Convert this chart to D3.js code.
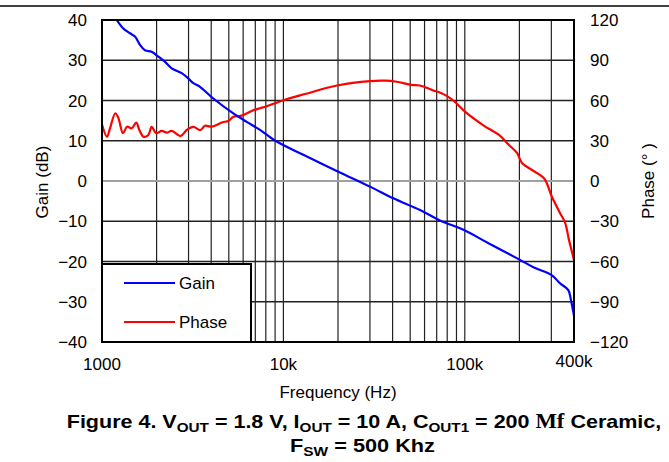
<!DOCTYPE html>
<html><head><meta charset="utf-8">
<script src="https://cdn.jsdelivr.net/npm/d3@7"></script>
<style>
html,body{margin:0;padding:0;background:#fff;}
svg text{font-family:"Liberation Sans",Arial,Helvetica,sans-serif;fill:#000;}
</style></head>
<body><svg id="c" width="669" height="462"></svg>
<script>
// ---- data ----
const gainFreq = [1205,1310,1427,1520,1620,1726,1879,2044,2225,2422,2751,2990,3187,3469,4108,5294,6277,7430,9184,12880,20080,30020,40350,56620,73010,98990,134300,201500,240700,301300,334800,372100,385000,400000];
const gainDb   = [40,37.9,36.7,35.9,33.8,32.5,32.1,30.9,29.6,28.0,26.8,25.5,24.3,23.4,20.5,16.8,14.7,12.7,9.8,6.5,2.3,-1.4,-4.3,-7.2,-9.8,-12.2,-15.4,-19.6,-21.5,-23.4,-25.4,-27.1,-29.6,-33.5];
const phaseFreq = [1000,1065,1107,1184,1233,1305,1374,1458,1546,1606,1693,1800,1879,1992,2133,2273,2423,2709,2930,3187,3491,3697,4025,4616,4969,5294,5765,6009,6825,7430,8088,10000,13150,19750,30020,36320,42130,50960,56620,67060,73940,79470,88310,100250,126000,154400,175300,194000,206700,234700,273400,302500,334800,356800,375400,389900,400000];
const phaseDeg  = [42.1,33.0,39.3,50.5,46.7,35.6,40.5,39.3,43.6,38.0,33.0,34.3,40.3,35.6,37.3,36.0,37.3,33.5,38.0,40.3,38.0,41.2,40.5,43.8,44.7,47.9,48.4,49.2,52.7,54.2,55.7,60.2,64.8,71.2,74.5,74.8,74.0,71.6,71.2,67.5,65.6,63.4,58.9,51.7,41.7,34.3,26.8,20.9,13.4,8.2,2.0,-11.9,-23.8,-30.9,-44.0,-52.9,-58.9];
const freqTicks = [1000,10000,100000,400000];
const freqTickLabels = ["1000","10k","100k","400k"];
const gridFreqs = [2000,3000,4000,5000,6000,7000,8000,9000,10000,20000,30000,40000,50000,60000,70000,80000,90000,100000,200000,300000];
const gainTicks = [-40,-30,-20,-10,0,10,20,30,40];
const phaseTicks = [-120,-90,-60,-30,0,30,60,90,120];
const seriesNames = ["Gain","Phase"];

const svg = d3.select("#c");
const L=102,R=574,T=20,B=342;
const x = d3.scaleLog().domain([1000,400000]).range([L,R]);
const yG = d3.scaleLinear().domain([-40,40]).range([B,T]);
const yP = d3.scaleLinear().domain([-120,120]).range([B,T]);
const fmt = v => (v<0?"\u2212"+Math.abs(v):String(v));

// top rule
svg.append("line").attr("x1",0).attr("x2",669).attr("y1",6).attr("y2",6).attr("stroke","#000").attr("stroke-width",1.5);

// grid
const g = svg.append("g");
g.selectAll("line.v").data(gridFreqs).enter().append("line")
  .attr("x1",d=>x(d)).attr("x2",d=>x(d)).attr("y1",T).attr("y2",B)
  .attr("stroke","#222").attr("stroke-width",1.2);
g.selectAll("line.h").data(gainTicks.filter(d=>d>-40&&d<40)).enter().append("line")
  .attr("x1",L).attr("x2",R).attr("y1",d=>yG(d)).attr("y2",d=>yG(d))
  .attr("stroke",d=>d===0?"#a0a0a0":"#222").attr("stroke-width",d=>d===0?1.8:1.3);

// clip
svg.append("clipPath").attr("id","pc").append("rect").attr("x",L).attr("y",T).attr("width",R-L).attr("height",B-T);

const phaseLine = d3.line().x(d=>x(d[0])).y(d=>yP(d[1])).curve(d3.curveCatmullRom);
const gainLine = d3.line().x(d=>x(d[0])).y(d=>yG(d[1])).curve(d3.curveCatmullRom);
svg.append("path").datum(phaseFreq.map((f,i)=>[f,phaseDeg[i]])).attr("clip-path","url(#pc)")
  .attr("d",phaseLine).attr("fill","none").attr("stroke","#ff0000").attr("stroke-width",2.2);
svg.append("path").datum(gainFreq.map((f,i)=>[f,gainDb[i]])).attr("clip-path","url(#pc)")
  .attr("d",gainLine).attr("fill","none").attr("stroke","#0000ff").attr("stroke-width",2.2);

// legend
const lg = svg.append("g");
lg.append("rect").attr("x",L).attr("y",264).attr("width",149).attr("height",B-264)
  .attr("fill","#fff").attr("stroke","#000").attr("stroke-width",2);
const lcol = ["#0000ff","#ff0000"], ly=[283,322];
seriesNames.forEach((n,i)=>{
  lg.append("line").attr("x1",124).attr("x2",175).attr("y1",ly[i]).attr("y2",ly[i]).attr("stroke",lcol[i]).attr("stroke-width",1.8);
  lg.append("text").attr("x",179).attr("y",ly[i]+6).attr("font-size",17).text(n);
});

// frame
svg.append("rect").attr("x",L).attr("y",T).attr("width",R-L).attr("height",B-T)
  .attr("fill","none").attr("stroke","#000").attr("stroke-width",2);

// axes labels
svg.selectAll("text.gt").data(gainTicks).enter().append("text")
  .attr("x",87).attr("y",d=>yG(d)+6).attr("text-anchor","end").attr("font-size",17).text(fmt);
svg.selectAll("text.pt").data(phaseTicks).enter().append("text")
  .attr("x",590).attr("y",d=>yP(d)+6).attr("text-anchor","start").attr("font-size",17).text(fmt);
svg.selectAll("text.ft").data(freqTicks).enter().append("text")
  .attr("x",d=>x(d)).attr("y",(d,i)=>i===3?367:370).attr("text-anchor","middle").attr("font-size",17)
  .text((d,i)=>freqTickLabels[i]);

svg.append("text").attr("transform","translate(48,182) rotate(-90)").attr("text-anchor","middle").attr("font-size",17).text("Gain (dB)");
svg.append("text").attr("transform","translate(654,181) rotate(-90)").attr("text-anchor","middle").attr("font-size",17).text("Phase (\u00b0 )");
svg.append("text").attr("x",338).attr("y",398).attr("text-anchor","middle").attr("font-size",17).text("Frequency (Hz)");

// title
function addParts(t,parts){
  parts.forEach((p,i)=>{
    const s=t.append("tspan").text(p[0]);
    if(p[1]==="sub"){s.attr("font-size",13.5).attr("dy",4);}
    else {
      if(p[1]==="serif"){s.attr("font-family","'Liberation Serif','Times New Roman',serif").attr("font-size",20);}
      if(i>0 && parts[i-1][1]==="sub") s.attr("dy",-4);
    }
  });
}
function titleLine(parts,cx,by,targetW){
  const t = svg.append("text").attr("x",0).attr("y",0).attr("text-anchor","middle").attr("font-size",19).attr("font-weight","bold");
  addParts(t,parts);
  const w = t.node().getBBox().width;
  const s = targetW/w;
  t.attr("transform",`translate(${cx},${by}) scale(${s},1)`);
}
titleLine([["Figure 4. V"],["OUT","sub"],[" = 1.8 V, I"],["OUT","sub"],[" = 10 A, C"],["OUT1","sub"],[" = 200 "],["Mf","serif"],[" Ceramic,"]],364,428,595);
titleLine([["F"],["SW","sub"],[" = 500 Khz"]],362.5,452,145);
</script></body></html>
